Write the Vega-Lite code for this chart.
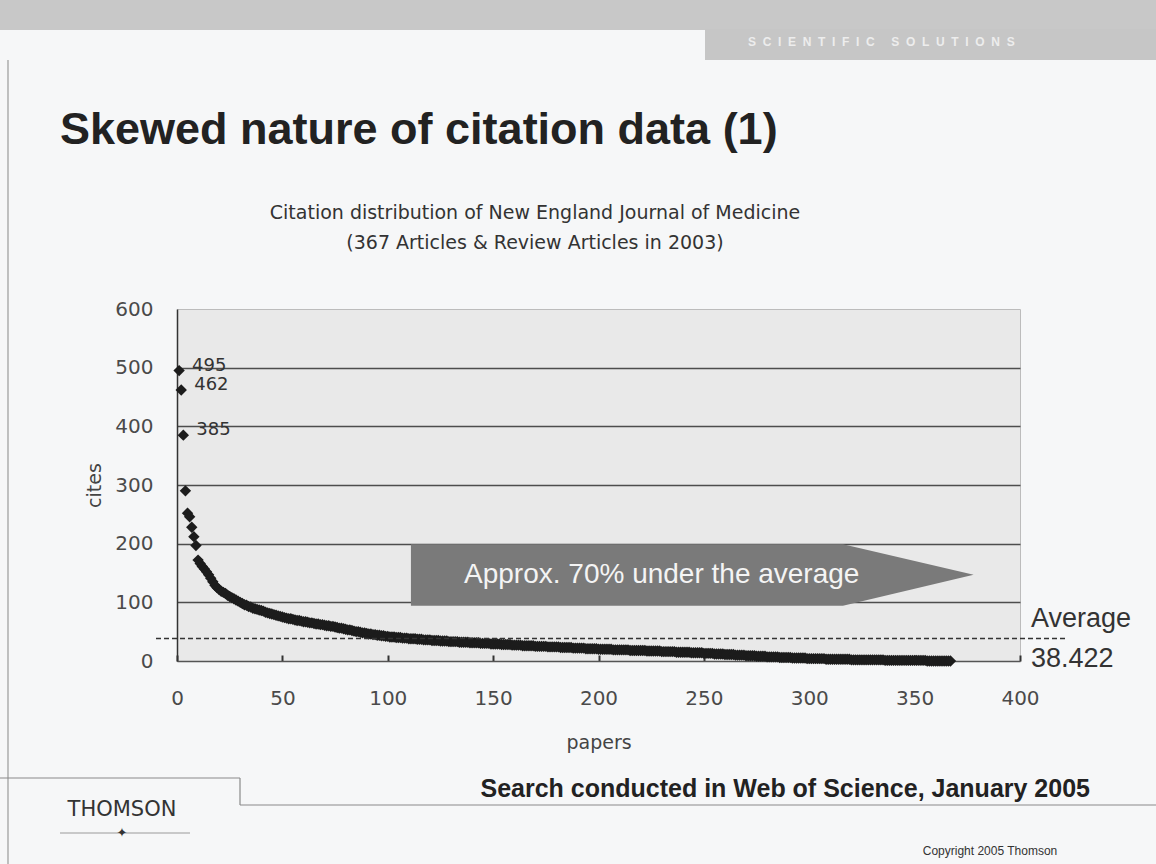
{
  "$schema": "https://vega.github.io/schema/vega-lite/v6.json",
  "width": 843,
  "height": 352,
  "autosize": {"type": "none"},
  "padding": {"left": 177, "top": 309, "right": 136, "bottom": 203},
  "background": "#f6f7f8",
  "config": {
    "view": {"fill": "#e9e9e9", "stroke": "#bcbcbc", "strokeWidth": 1},
    "font": "Liberation Sans"
  },
  "datasets": {
    "cites": [
      {"paper":1,"cites":495},{"paper":2,"cites":462},{"paper":3,"cites":385},{"paper":4,"cites":290},{"paper":5,"cites":252},{"paper":6,"cites":246},{"paper":7,"cites":228},{"paper":8,"cites":212},{"paper":9,"cites":197},{"paper":10,"cites":172},
      {"paper":11,"cites":166},{"paper":12,"cites":161},{"paper":13,"cites":157},{"paper":14,"cites":152},{"paper":15,"cites":147},{"paper":16,"cites":141},{"paper":17,"cites":135},{"paper":18,"cites":129},{"paper":19,"cites":125},{"paper":20,"cites":122},
      {"paper":21,"cites":119},{"paper":22,"cites":117},{"paper":23,"cites":115},{"paper":24,"cites":112},{"paper":25,"cites":110},{"paper":26,"cites":108},{"paper":27,"cites":106},{"paper":28,"cites":104},{"paper":29,"cites":102},{"paper":30,"cites":100},
      {"paper":31,"cites":98},{"paper":32,"cites":96},{"paper":33,"cites":95},{"paper":34,"cites":93},{"paper":35,"cites":92},{"paper":36,"cites":90},{"paper":37,"cites":89},{"paper":38,"cites":88},{"paper":39,"cites":87},{"paper":40,"cites":86},
      {"paper":41,"cites":85},{"paper":42,"cites":83},{"paper":43,"cites":82},{"paper":44,"cites":81},{"paper":45,"cites":80},{"paper":46,"cites":79},{"paper":47,"cites":78},{"paper":48,"cites":77},{"paper":49,"cites":76},{"paper":50,"cites":75},
      {"paper":51,"cites":74},{"paper":52,"cites":73},{"paper":53,"cites":72},{"paper":54,"cites":72},{"paper":55,"cites":71},{"paper":56,"cites":70},{"paper":57,"cites":69},{"paper":58,"cites":69},{"paper":59,"cites":68},{"paper":60,"cites":67},
      {"paper":61,"cites":67},{"paper":62,"cites":66},{"paper":63,"cites":65},{"paper":64,"cites":65},{"paper":65,"cites":64},{"paper":66,"cites":63},{"paper":67,"cites":63},{"paper":68,"cites":62},{"paper":69,"cites":62},{"paper":70,"cites":61},
      {"paper":71,"cites":60},{"paper":72,"cites":60},{"paper":73,"cites":59},{"paper":74,"cites":59},{"paper":75,"cites":58},{"paper":76,"cites":57},{"paper":77,"cites":56},{"paper":78,"cites":56},{"paper":79,"cites":55},{"paper":80,"cites":54},
      {"paper":81,"cites":53},{"paper":82,"cites":53},{"paper":83,"cites":52},{"paper":84,"cites":51},{"paper":85,"cites":50},{"paper":86,"cites":50},{"paper":87,"cites":49},{"paper":88,"cites":48},{"paper":89,"cites":48},{"paper":90,"cites":47},
      {"paper":91,"cites":46},{"paper":92,"cites":46},{"paper":93,"cites":45},{"paper":94,"cites":45},{"paper":95,"cites":44},{"paper":96,"cites":44},{"paper":97,"cites":43},{"paper":98,"cites":43},{"paper":99,"cites":42},{"paper":100,"cites":42},
      {"paper":101,"cites":41},{"paper":102,"cites":41},{"paper":103,"cites":41},{"paper":104,"cites":40},{"paper":105,"cites":40},{"paper":106,"cites":40},{"paper":107,"cites":39},{"paper":108,"cites":39},{"paper":109,"cites":39},{"paper":110,"cites":38},
      {"paper":111,"cites":38},{"paper":112,"cites":38},{"paper":113,"cites":38},{"paper":114,"cites":37},{"paper":115,"cites":37},{"paper":116,"cites":37},{"paper":117,"cites":36},{"paper":118,"cites":36},{"paper":119,"cites":36},{"paper":120,"cites":36},
      {"paper":121,"cites":35},{"paper":122,"cites":35},{"paper":123,"cites":35},{"paper":124,"cites":35},{"paper":125,"cites":34},{"paper":126,"cites":34},{"paper":127,"cites":34},{"paper":128,"cites":34},{"paper":129,"cites":33},{"paper":130,"cites":33},
      {"paper":131,"cites":33},{"paper":132,"cites":33},{"paper":133,"cites":33},{"paper":134,"cites":32},{"paper":135,"cites":32},{"paper":136,"cites":32},{"paper":137,"cites":32},{"paper":138,"cites":32},{"paper":139,"cites":31},{"paper":140,"cites":31},
      {"paper":141,"cites":31},{"paper":142,"cites":31},{"paper":143,"cites":31},{"paper":144,"cites":30},{"paper":145,"cites":30},{"paper":146,"cites":30},{"paper":147,"cites":30},{"paper":148,"cites":30},{"paper":149,"cites":29},{"paper":150,"cites":29},
      {"paper":151,"cites":29},{"paper":152,"cites":29},{"paper":153,"cites":29},{"paper":154,"cites":28},{"paper":155,"cites":28},{"paper":156,"cites":28},{"paper":157,"cites":28},{"paper":158,"cites":28},{"paper":159,"cites":27},{"paper":160,"cites":27},
      {"paper":161,"cites":27},{"paper":162,"cites":27},{"paper":163,"cites":27},{"paper":164,"cites":26},{"paper":165,"cites":26},{"paper":166,"cites":26},{"paper":167,"cites":26},{"paper":168,"cites":26},{"paper":169,"cites":26},{"paper":170,"cites":25},
      {"paper":171,"cites":25},{"paper":172,"cites":25},{"paper":173,"cites":25},{"paper":174,"cites":25},{"paper":175,"cites":25},{"paper":176,"cites":24},{"paper":177,"cites":24},{"paper":178,"cites":24},{"paper":179,"cites":24},{"paper":180,"cites":24},
      {"paper":181,"cites":24},{"paper":182,"cites":23},{"paper":183,"cites":23},{"paper":184,"cites":23},{"paper":185,"cites":23},{"paper":186,"cites":23},{"paper":187,"cites":23},{"paper":188,"cites":22},{"paper":189,"cites":22},{"paper":190,"cites":22},
      {"paper":191,"cites":22},{"paper":192,"cites":22},{"paper":193,"cites":22},{"paper":194,"cites":21},{"paper":195,"cites":21},{"paper":196,"cites":21},{"paper":197,"cites":21},{"paper":198,"cites":21},{"paper":199,"cites":21},{"paper":200,"cites":20},
      {"paper":201,"cites":20},{"paper":202,"cites":20},{"paper":203,"cites":20},{"paper":204,"cites":20},{"paper":205,"cites":20},{"paper":206,"cites":20},{"paper":207,"cites":19},{"paper":208,"cites":19},{"paper":209,"cites":19},{"paper":210,"cites":19},
      {"paper":211,"cites":19},{"paper":212,"cites":19},{"paper":213,"cites":19},{"paper":214,"cites":19},{"paper":215,"cites":18},{"paper":216,"cites":18},{"paper":217,"cites":18},{"paper":218,"cites":18},{"paper":219,"cites":18},{"paper":220,"cites":18},
      {"paper":221,"cites":18},{"paper":222,"cites":18},{"paper":223,"cites":17},{"paper":224,"cites":17},{"paper":225,"cites":17},{"paper":226,"cites":17},{"paper":227,"cites":17},{"paper":228,"cites":17},{"paper":229,"cites":17},{"paper":230,"cites":16},
      {"paper":231,"cites":16},{"paper":232,"cites":16},{"paper":233,"cites":16},{"paper":234,"cites":16},{"paper":235,"cites":16},{"paper":236,"cites":16},{"paper":237,"cites":15},{"paper":238,"cites":15},{"paper":239,"cites":15},{"paper":240,"cites":15},
      {"paper":241,"cites":15},{"paper":242,"cites":15},{"paper":243,"cites":15},{"paper":244,"cites":14},{"paper":245,"cites":14},{"paper":246,"cites":14},{"paper":247,"cites":14},{"paper":248,"cites":14},{"paper":249,"cites":14},{"paper":250,"cites":13},
      {"paper":251,"cites":13},{"paper":252,"cites":13},{"paper":253,"cites":13},{"paper":254,"cites":13},{"paper":255,"cites":12},{"paper":256,"cites":12},{"paper":257,"cites":12},{"paper":258,"cites":12},{"paper":259,"cites":12},{"paper":260,"cites":11},
      {"paper":261,"cites":11},{"paper":262,"cites":11},{"paper":263,"cites":11},{"paper":264,"cites":11},{"paper":265,"cites":10},{"paper":266,"cites":10},{"paper":267,"cites":10},{"paper":268,"cites":10},{"paper":269,"cites":10},{"paper":270,"cites":9},
      {"paper":271,"cites":9},{"paper":272,"cites":9},{"paper":273,"cites":9},{"paper":274,"cites":9},{"paper":275,"cites":8},{"paper":276,"cites":8},{"paper":277,"cites":8},{"paper":278,"cites":8},{"paper":279,"cites":8},{"paper":280,"cites":7},
      {"paper":281,"cites":7},{"paper":282,"cites":7},{"paper":283,"cites":7},{"paper":284,"cites":7},{"paper":285,"cites":7},{"paper":286,"cites":6},{"paper":287,"cites":6},{"paper":288,"cites":6},{"paper":289,"cites":6},{"paper":290,"cites":6},
      {"paper":291,"cites":6},{"paper":292,"cites":5},{"paper":293,"cites":5},{"paper":294,"cites":5},{"paper":295,"cites":5},{"paper":296,"cites":5},{"paper":297,"cites":5},{"paper":298,"cites":5},{"paper":299,"cites":4},{"paper":300,"cites":4},
      {"paper":301,"cites":4},{"paper":302,"cites":4},{"paper":303,"cites":4},{"paper":304,"cites":4},{"paper":305,"cites":4},{"paper":306,"cites":4},{"paper":307,"cites":4},{"paper":308,"cites":3},{"paper":309,"cites":3},{"paper":310,"cites":3},
      {"paper":311,"cites":3},{"paper":312,"cites":3},{"paper":313,"cites":3},{"paper":314,"cites":3},{"paper":315,"cites":3},{"paper":316,"cites":3},{"paper":317,"cites":3},{"paper":318,"cites":3},{"paper":319,"cites":3},{"paper":320,"cites":2},
      {"paper":321,"cites":2},{"paper":322,"cites":2},{"paper":323,"cites":2},{"paper":324,"cites":2},{"paper":325,"cites":2},{"paper":326,"cites":2},{"paper":327,"cites":2},{"paper":328,"cites":2},{"paper":329,"cites":2},{"paper":330,"cites":2},
      {"paper":331,"cites":2},{"paper":332,"cites":2},{"paper":333,"cites":2},{"paper":334,"cites":2},{"paper":335,"cites":2},{"paper":336,"cites":1},{"paper":337,"cites":1},{"paper":338,"cites":1},{"paper":339,"cites":1},{"paper":340,"cites":1},
      {"paper":341,"cites":1},{"paper":342,"cites":1},{"paper":343,"cites":1},{"paper":344,"cites":1},{"paper":345,"cites":1},{"paper":346,"cites":1},{"paper":347,"cites":1},{"paper":348,"cites":1},{"paper":349,"cites":1},{"paper":350,"cites":1},
      {"paper":351,"cites":1},{"paper":352,"cites":1},{"paper":353,"cites":1},{"paper":354,"cites":1},{"paper":355,"cites":1},{"paper":356,"cites":0},{"paper":357,"cites":0},{"paper":358,"cites":0},{"paper":359,"cites":0},{"paper":360,"cites":0},
      {"paper":361,"cites":0},{"paper":362,"cites":0},{"paper":363,"cites":0},{"paper":364,"cites":0},{"paper":365,"cites":0},{"paper":366,"cites":0},{"paper":367,"cites":0}
    ],
    "arrow": [
      {"paper": 111, "cites": 199, "low": 94},
      {"paper": 316, "cites": 199, "low": 94},
      {"paper": 378, "cites": 147, "low": 147}
    ],
    "average": [{"cites": 38.422}]
  },
  "encoding": {
    "x": {
      "field": "paper", "type": "quantitative", "title": "papers",
      "scale": {"domain": [0, 400], "nice": false},
      "axis": {
        "values": [0, 50, 100, 150, 200, 250, 300, 350, 400],
        "grid": false, "labelFlush": false, "labelOverlap": false,
        "tickSize": -6, "tickColor": "#333333", "tickWidth": 2,
        "domainColor": "#555555", "domainWidth": 1.5,
        "labelPadding": 33, "labelFont": "DejaVu Sans", "labelFontSize": 20, "labelColor": "#4a4a4a",
        "titleFont": "DejaVu Sans", "titleFontSize": 19, "titleFontWeight": "normal", "titleColor": "#444444", "titlePadding": 25
      }
    },
    "y": {
      "field": "cites", "type": "quantitative", "title": "cites",
      "scale": {"domain": [0, 600], "nice": false},
      "axis": {
        "values": [0, 100, 200, 300, 400, 500, 600],
        "grid": true, "labelOverlap": false, "labelFlush": false,
        "gridColor": {"condition": {"test": "datum.value == 0 || datum.value == 600", "value": "transparent"}, "value": "#4d4d4d"},
        "gridWidth": 1.3, "ticks": false,
        "domainColor": "#333333", "domainWidth": 1.5,
        "labelPadding": 24, "labelFont": "DejaVu Sans", "labelFontSize": 20, "labelColor": "#4a4a4a",
        "titleFont": "DejaVu Sans", "titleFontSize": 19, "titleFontWeight": "normal", "titleColor": "#444444", "titlePadding": 10
      }
    }
  },
  "layer": [
    {
      "data": {"values": [{}]},
      "mark": {"type": "rect", "fill": "#c8c8c8"},
      "encoding": {"x": {"value": -177}, "x2": {"value": 979}, "y": {"value": -309}, "y2": {"value": -279}}
    },
    {
      "data": {"values": [{}]},
      "mark": {"type": "rect", "fill": "#c6c6c6"},
      "encoding": {"x": {"value": 528}, "x2": {"value": 979}, "y": {"value": -280}, "y2": {"value": -249}}
    },
    {
      "data": {"values": [{}]},
      "mark": {"type": "text", "text": "S\u00a0\u00a0C\u00a0\u00a0I\u00a0\u00a0E\u00a0\u00a0N\u00a0\u00a0T\u00a0\u00a0I\u00a0\u00a0F\u00a0\u00a0I\u00a0\u00a0C\u00a0\u00a0\u00a0\u00a0\u00a0S\u00a0\u00a0O\u00a0\u00a0L\u00a0\u00a0U\u00a0\u00a0T\u00a0\u00a0I\u00a0\u00a0O\u00a0\u00a0N\u00a0\u00a0S", "font": "Liberation Sans", "fontSize": 12, "fontWeight": "bold", "fill": "#ededed", "align": "left", "baseline": "middle"},
      "encoding": {"x": {"value": 571}, "y": {"value": -267}}
    },
    {
      "data": {"values": [{}]},
      "mark": {"type": "rule", "stroke": "#9a9a9a", "strokeWidth": 1.2},
      "encoding": {"x": {"value": -169}, "y": {"value": -249}, "y2": {"value": 555}}
    },
    {
      "data": {"values": [{}]},
      "mark": {"type": "text", "text": "Skewed nature of citation data (1)", "font": "Liberation Sans", "fontSize": 45, "fontWeight": "bold", "fill": "#222222", "align": "left", "baseline": "middle"},
      "encoding": {"x": {"value": -117}, "y": {"value": -179}}
    },
    {
      "data": {"values": [{}]},
      "mark": {"type": "text", "text": ["Citation distribution of New England Journal of Medicine", "(367 Articles & Review Articles in 2003)"], "font": "DejaVu Sans", "fontSize": 19, "lineHeight": 30, "fill": "#333333", "align": "center", "baseline": "middle"},
      "encoding": {"x": {"value": 358}, "y": {"value": -96}}
    },
    {
      "data": {"values": [{}]},
      "mark": {"type": "rule", "stroke": "#8a8a8a", "strokeWidth": 1.2},
      "encoding": {"x": {"value": -177}, "x2": {"value": 63}, "y": {"value": 469}}
    },
    {
      "data": {"values": [{}]},
      "mark": {"type": "rule", "stroke": "#8a8a8a", "strokeWidth": 1.2},
      "encoding": {"x": {"value": 63}, "y": {"value": 469}, "y2": {"value": 496}}
    },
    {
      "data": {"values": [{}]},
      "mark": {"type": "rule", "stroke": "#8a8a8a", "strokeWidth": 1.2},
      "encoding": {"x": {"value": 63}, "x2": {"value": 979}, "y": {"value": 496}}
    },
    {
      "data": {"values": [{}]},
      "mark": {"type": "text", "text": "Search conducted in Web of Science, January 2005", "font": "Liberation Sans", "fontSize": 25, "fontWeight": "bold", "fill": "#222222", "align": "right", "baseline": "middle"},
      "encoding": {"x": {"value": 913}, "y": {"value": 480}}
    },
    {
      "data": {"values": [{}]},
      "mark": {"type": "text", "text": "THOMSON", "font": "DejaVu Sans", "fontSize": 21, "fill": "#333333", "align": "center", "baseline": "middle"},
      "encoding": {"x": {"value": -55}, "y": {"value": 501}}
    },
    {
      "data": {"values": [{}]},
      "mark": {"type": "rule", "stroke": "#9a9a9a", "strokeWidth": 1},
      "encoding": {"x": {"value": -117}, "x2": {"value": 13}, "y": {"value": 524}}
    },
    {
      "data": {"values": [{}]},
      "mark": {"type": "text", "text": "✦", "font": "DejaVu Sans", "fontSize": 13, "fill": "#333333", "align": "center", "baseline": "middle"},
      "encoding": {"x": {"value": -55}, "y": {"value": 524}}
    },
    {
      "data": {"values": [{}]},
      "mark": {"type": "text", "text": "Copyright 2005 Thomson", "font": "Liberation Sans", "fontSize": 12, "fill": "#333333", "align": "center", "baseline": "middle"},
      "encoding": {"x": {"value": 813}, "y": {"value": 542}}
    },
    {
      "data": {"name": "cites"},
      "mark": {"type": "point", "shape": "diamond", "filled": true, "size": 130, "color": "#1c1c1c", "opacity": 1}
    },
    {
      "data": {"name": "arrow"},
      "mark": {"type": "area", "color": "#7a7a7a", "opacity": 1, "interpolate": "linear", "clip": false},
      "encoding": {"y2": {"field": "low"}}
    },
    {
      "data": {"values": [{"label": "Approx. 70% under the average", "paper": 230, "cites": 147}]},
      "mark": {"type": "text", "font": "Liberation Sans", "fontSize": 28, "fill": "#f4f4f4", "align": "center", "baseline": "middle"},
      "encoding": {"text": {"field": "label"}}
    },
    {
      "data": {"name": "average"},
      "mark": {"type": "rule", "stroke": "#333333", "strokeWidth": 1.4, "strokeDash": [5, 3], "clip": false},
      "encoding": {
        "x": {"value": -21},
        "x2": {"value": 889}
      }
    },
    {
      "data": {"name": "average"},
      "mark": {"type": "text", "text": "Average", "font": "Liberation Sans", "fontSize": 27, "fill": "#333333", "align": "left", "baseline": "middle", "dy": -19},
      "encoding": {
        "x": {"value": 854}
      }
    },
    {
      "data": {"name": "average"},
      "mark": {"type": "text", "font": "Liberation Sans", "fontSize": 27, "fill": "#333333", "align": "left", "baseline": "middle", "dy": 21},
      "encoding": {
        "x": {"value": 854},
        "text": {"field": "cites", "type": "quantitative", "format": ".3f"}
      }
    },
    {
      "data": {"name": "cites"},
      "transform": [{"filter": "datum.paper <= 3"}],
      "mark": {"type": "text", "font": "DejaVu Sans", "fontSize": 18, "fill": "#333333", "align": "left", "baseline": "middle", "dx": 13, "dy": -5},
      "encoding": {
        "text": {"field": "cites", "type": "quantitative"}
      }
    }
  ]
}
